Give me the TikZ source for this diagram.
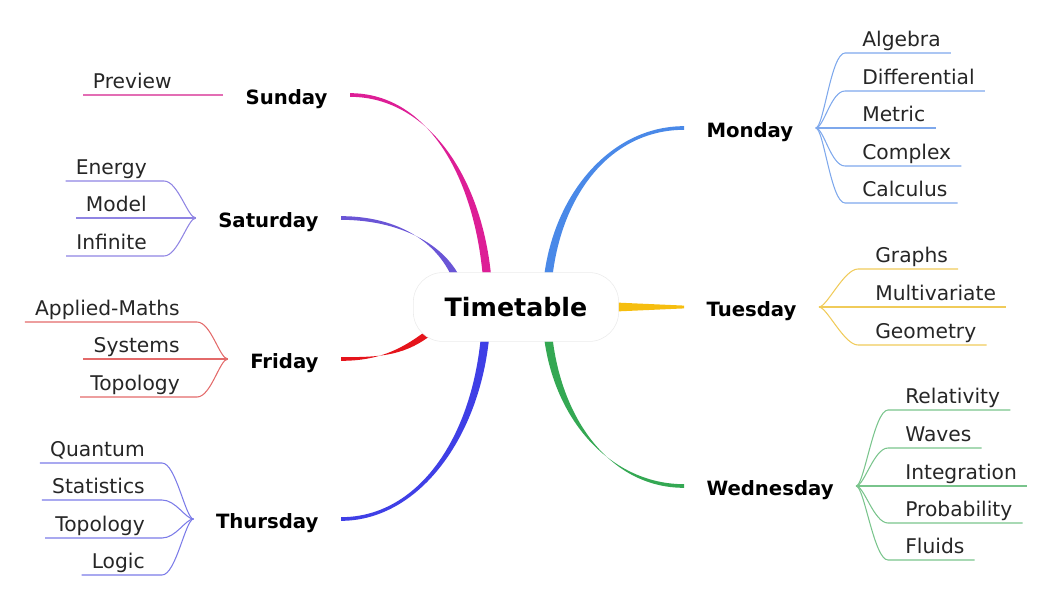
\documentclass[tikz,border=0pt]{standalone}
\usepackage{fontspec}
\setmainfont{DejaVu Sans}
\usetikzlibrary{backgrounds}

\definecolor{moncol}{HTML}{4A89E8}
\definecolor{monleaf}{HTML}{7EA8EC}
\definecolor{tuecol}{HTML}{F6BE0F}
\definecolor{tueleaf}{HTML}{F0CB5A}
\definecolor{wedcol}{HTML}{34A853}
\definecolor{wedleaf}{HTML}{79C48C}
\definecolor{suncol}{HTML}{DD1E96}
\definecolor{sunleaf}{HTML}{E36DB4}
\definecolor{satcol}{HTML}{6A55D6}
\definecolor{satleaf}{HTML}{8F84E3}
\definecolor{fricol}{HTML}{E5141B}
\definecolor{frileaf}{HTML}{E36A6A}
\definecolor{thucol}{HTML}{3F3FE6}
\definecolor{thuleaf}{HTML}{7B7BE8}

\begin{document}
\begin{tikzpicture}[x=0.025cm, y=-0.025cm,
  hub/.style={draw=black!8, fill=white, rounded corners=21pt, minimum width=146pt,
    minimum height=49pt, font=\fontsize{18}{20}\selectfont\bfseries},
  day/.style={font=\fontsize{14}{16}\selectfont\bfseries, inner sep=0pt,
    outer xsep=16pt, text height=14pt, text depth=0pt},
  leaf/.style={font=\fontsize{14.4}{16}\selectfont, text=black!85, inner sep=0pt},
  twig/.style={line width=0.75pt}]
  \useasboundingbox (0,0) rectangle (1050,598);

  % centre
  \node[hub] (ctr) at (516,307) {Timetable};

  % days, right side
  \node[day, anchor=west] (mon) at (684,128) {Monday};
  \node[day, anchor=west] (tue) at (684,307) {Tuesday};
  \node[day, anchor=west] (wed) at (684,486) {Wednesday};
  % days, left side
  \node[day, anchor=east] (sun) at (350,95) {Sunday};
  \node[day, anchor=east] (sat) at (341,218) {Saturday};
  \node[day, anchor=east] (fri) at (341,359) {Friday};
  \node[day, anchor=east] (thu) at (341,519) {Thursday};

  % start points of the branches, under the centre node
  \coordinate (mo0) at ([shift={(31,-17)}]ctr.center);
  \coordinate (tu0) at ([shift={(90,0)}]ctr.center);
  \coordinate (we0) at ([shift={(31,17)}]ctr.center);
  \coordinate (su0) at ([shift={(-28,-17)}]ctr.center);
  \coordinate (sa0) at ([shift={(-55,-15)}]ctr.center);
  \coordinate (fr0) at ([shift={(-80,20)}]ctr.center);
  \coordinate (th0) at ([shift={(-30,17)}]ctr.center);

  % thick tapered branches
  \begin{scope}[on background layer]
    \fill[moncol] ([xshift=-3pt]mo0) .. controls +(6,-92) and +(-75,0) .. ([yshift=1.3pt]mon.west)
      -- ([yshift=-1.3pt]mon.west) .. controls +(-75,0) and +(6,-92) .. ([xshift=3pt]mo0) -- cycle;
    \fill[tuecol] ([yshift=3.5pt]tu0) -- ([yshift=1pt]tue.west) -- ([yshift=-1pt]tue.west)
      -- ([yshift=-3.5pt]tu0) -- cycle;
    \fill[wedcol] ([xshift=-3pt]we0) .. controls +(6,92) and +(-75,0) .. ([yshift=1.3pt]wed.west)
      -- ([yshift=-1.3pt]wed.west) .. controls +(-75,0) and +(6,92) .. ([xshift=3pt]we0) -- cycle;
    \fill[suncol] ([xshift=-3pt]su0) .. controls +(-6,-108) and +(80,0) .. ([yshift=1.3pt]sun.east)
      -- ([yshift=-1.3pt]sun.east) .. controls +(80,0) and +(-6,-108) .. ([xshift=3pt]su0) -- cycle;
    \fill[satcol] ([xshift=-3pt]sa0) .. controls +(-10,-42) and +(65,0) .. ([yshift=1.3pt]sat.east)
      -- ([yshift=-1.3pt]sat.east) .. controls +(65,0) and +(-10,-42) .. ([xshift=3pt]sa0) -- cycle;
    \fill[fricol] ([yshift=-3pt]fr0) .. controls +(-30,25) and +(40,0) .. ([yshift=1.3pt]fri.east)
      -- ([yshift=-1.3pt]fri.east) .. controls +(40,0) and +(-30,25) .. ([yshift=3pt]fr0) -- cycle;
    \fill[thucol] ([xshift=-3pt]th0) .. controls +(-6,108) and +(80,0) .. ([yshift=1.3pt]thu.east)
      -- ([yshift=-1.3pt]thu.east) .. controls +(80,0) and +(-6,108) .. ([xshift=3pt]th0) -- cycle;
  \end{scope}

  % Monday topics
  \node[leaf, anchor=base west] (alg) at (862,46) {Algebra};
  \node[leaf, anchor=base west] (dif) at (862,84) {Differential};
  \node[leaf, anchor=base west] (met) at (862,121) {Metric};
  \node[leaf, anchor=base west] (cpx) at (862,159) {Complex};
  \node[leaf, anchor=base west] (cal) at (862,196) {Calculus};
  \draw[twig, monleaf] (mon.east) .. controls +(8,0) and +(-14,0) .. ([shift={(-17,7)}]alg.base west) -- ([shift={(10,7)}]alg.base east);
  \draw[twig, monleaf] (mon.east) .. controls +(8,0) and +(-14,0) .. ([shift={(-17,7)}]dif.base west) -- ([shift={(10,7)}]dif.base east);
  \draw[twig, monleaf] (mon.east) -- ([shift={(10,7)}]met.base east);
  \draw[twig, monleaf] (mon.east) .. controls +(8,0) and +(-14,0) .. ([shift={(-17,7)}]cpx.base west) -- ([shift={(10,7)}]cpx.base east);
  \draw[twig, monleaf] (mon.east) .. controls +(8,0) and +(-14,0) .. ([shift={(-17,7)}]cal.base west) -- ([shift={(10,7)}]cal.base east);

  % Tuesday topics
  \node[leaf, anchor=base west] (gra) at (875,262) {Graphs};
  \node[leaf, anchor=base west] (mul) at (875,300) {Multivariate};
  \node[leaf, anchor=base west] (geo) at (875,338) {Geometry};
  \draw[twig, tueleaf] (tue.east) .. controls +(8,0) and +(-14,0) .. ([shift={(-17,7)}]gra.base west) -- ([shift={(10,7)}]gra.base east);
  \draw[twig, tueleaf] (tue.east) -- ([shift={(10,7)}]mul.base east);
  \draw[twig, tueleaf] (tue.east) .. controls +(8,0) and +(-14,0) .. ([shift={(-17,7)}]geo.base west) -- ([shift={(10,7)}]geo.base east);

  % Wednesday topics
  \node[leaf, anchor=base west] (rel) at (905,403) {Relativity};
  \node[leaf, anchor=base west] (wav) at (905,441) {Waves};
  \node[leaf, anchor=base west] (int) at (905,479) {Integration};
  \node[leaf, anchor=base west] (pro) at (905,516) {Probability};
  \node[leaf, anchor=base west] (flu) at (905,553) {Fluids};
  \draw[twig, wedleaf] (wed.east) .. controls +(8,0) and +(-14,0) .. ([shift={(-17,7)}]rel.base west) -- ([shift={(10,7)}]rel.base east);
  \draw[twig, wedleaf] (wed.east) .. controls +(8,0) and +(-14,0) .. ([shift={(-17,7)}]wav.base west) -- ([shift={(10,7)}]wav.base east);
  \draw[twig, wedleaf] (wed.east) -- ([shift={(10,7)}]int.base east);
  \draw[twig, wedleaf] (wed.east) .. controls +(8,0) and +(-14,0) .. ([shift={(-17,7)}]pro.base west) -- ([shift={(10,7)}]pro.base east);
  \draw[twig, wedleaf] (wed.east) .. controls +(8,0) and +(-14,0) .. ([shift={(-17,7)}]flu.base west) -- ([shift={(10,7)}]flu.base east);

  % Sunday topic
  \node[leaf, anchor=base east] (pre) at (172,88) {Preview};
  \draw[twig, sunleaf] (sun.west) -- ([shift={(-10,7)}]pre.base west);

  % Saturday topics
  \node[leaf, anchor=base east] (ene) at (147,174) {Energy};
  \node[leaf, anchor=base east] (mod) at (147,211) {Model};
  \node[leaf, anchor=base east] (inf) at (147,249) {Infinite};
  \draw[twig, satleaf] (sat.west) .. controls +(-8,0) and +(14,0) .. ([shift={(17,7)}]ene.base east) -- ([shift={(-10,7)}]ene.base west);
  \draw[twig, satleaf] (sat.west) -- ([shift={(-10,7)}]mod.base west);
  \draw[twig, satleaf] (sat.west) .. controls +(-8,0) and +(14,0) .. ([shift={(17,7)}]inf.base east) -- ([shift={(-10,7)}]inf.base west);

  % Friday topics
  \node[leaf, anchor=base east] (app) at (180,315) {Applied-Maths};
  \node[leaf, anchor=base east] (sys) at (180,352) {Systems};
  \node[leaf, anchor=base east] (top) at (180,390) {Topology};
  \draw[twig, frileaf] (fri.west) .. controls +(-8,0) and +(14,0) .. ([shift={(17,7)}]app.base east) -- ([shift={(-10,7)}]app.base west);
  \draw[twig, frileaf] (fri.west) -- ([shift={(-10,7)}]sys.base west);
  \draw[twig, frileaf] (fri.west) .. controls +(-8,0) and +(14,0) .. ([shift={(17,7)}]top.base east) -- ([shift={(-10,7)}]top.base west);

  % Thursday topics
  \node[leaf, anchor=base east] (qua) at (145,456) {Quantum};
  \node[leaf, anchor=base east] (sta) at (145,493) {Statistics};
  \node[leaf, anchor=base east] (tpl) at (145,531) {Topology};
  \node[leaf, anchor=base east] (log) at (145,568) {Logic};
  \draw[twig, thuleaf] (thu.west) .. controls +(-8,0) and +(14,0) .. ([shift={(17,7)}]qua.base east) -- ([shift={(-10,7)}]qua.base west);
  \draw[twig, thuleaf] (thu.west) .. controls +(-8,0) and +(14,0) .. ([shift={(17,7)}]sta.base east) -- ([shift={(-10,7)}]sta.base west);
  \draw[twig, thuleaf] (thu.west) .. controls +(-8,0) and +(14,0) .. ([shift={(17,7)}]tpl.base east) -- ([shift={(-10,7)}]tpl.base west);
  \draw[twig, thuleaf] (thu.west) .. controls +(-8,0) and +(14,0) .. ([shift={(17,7)}]log.base east) -- ([shift={(-10,7)}]log.base west);
\end{tikzpicture}
\end{document}
